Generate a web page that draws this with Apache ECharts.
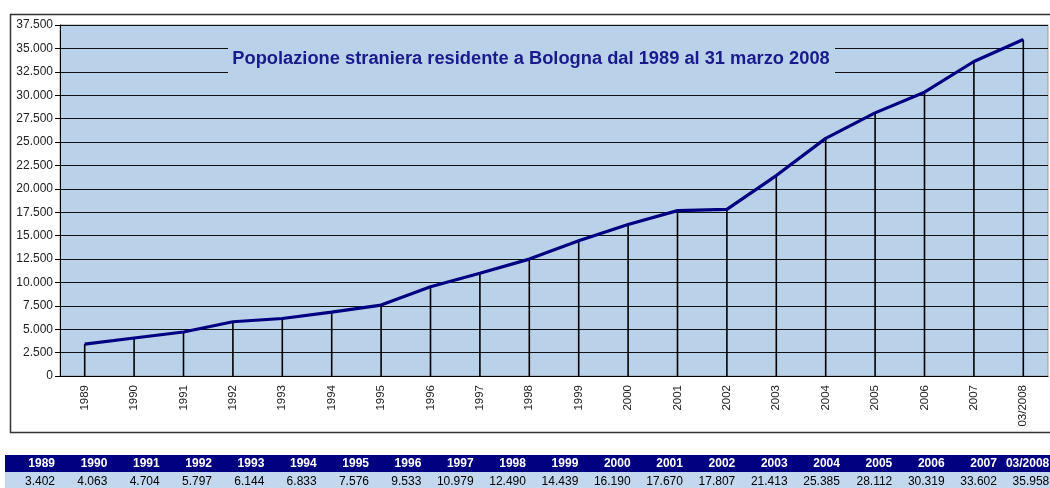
<!DOCTYPE html>
<html><head><meta charset="utf-8">
<script src="https://cdn.jsdelivr.net/npm/echarts@6/dist/echarts.min.js"></script>
<style>html,body{margin:0;padding:0;background:#fff}#c{width:1050px;height:488px}</style>
</head><body><div id="c"></div>
<script>
const categories = ['1989','1990','1991','1992','1993','1994','1995','1996','1997','1998','1999','2000','2001','2002','2003','2004','2005','2006','2007','03/2008'];
const values = [3402,4063,4704,5797,6144,6833,7576,9533,10979,12490,14439,16190,17670,17807,21413,25385,28112,30319,33602,35958];
const yMin = 0, yMax = 37500, yStep = 2500;
const titleText = 'Popolazione straniera residente a Bologna dal 1989 al 31 marzo 2008';

const FONT = '"Liberation Sans", Arial, sans-serif';
const PLOT_BG = '#BAD1EA';
const NAVY = '#000080';
const fmt = v => String(v).replace(/\B(?=(\d{3})+(?!\d))/g, '.');

const chart = echarts.init(document.getElementById('c'), null, {renderer: 'canvas'});

// table graphics built from the arrays
const tableEls = [];
tableEls.push({type:'rect', shape:{x:5, y:455, width:1050, height:17}, style:{fill:NAVY}, silent:true});
tableEls.push({type:'rect', shape:{x:5, y:472, width:1050, height:20}, style:{fill:'#C3D7EE'}, silent:true});
categories.forEach((c, i) => {
  const xr = 55 + i * 52.33;
  tableEls.push({type:'text', style:{text:c, x:xr, y:463.5, align:'right', verticalAlign:'middle',
    fill:'#fff', font:'bold 12px ' + FONT}, silent:true});
  tableEls.push({type:'text', style:{text:fmt(values[i]), x:xr, y:482, align:'right', verticalAlign:'middle',
    fill:'#000', font:'12px ' + FONT}, silent:true});
});

chart.setOption({
  animation: false,
  backgroundColor: '#fff',
  grid: {left: 60, top: 25, right: 2, bottom: 112, show: true, backgroundColor: PLOT_BG,
    borderColor: '#9a9a9a', borderWidth: 1, containLabel: false},
  xAxis: {
    type: 'category', data: categories, boundaryGap: true,
    axisLine: {show: true, lineStyle: {color: '#000', width: 1}},
    axisTick: {show: false},
    axisLabel: {rotate: 90, margin: 9, fontSize: 11.5, color: '#222', fontFamily: FONT}
  },
  yAxis: {
    type: 'value', min: yMin, max: yMax, interval: yStep,
    axisLine: {show: true, lineStyle: {color: '#000', width: 1}},
    axisTick: {show: true, inside: false, length: 5, lineStyle: {color: '#000'}},
    axisLabel: {fontSize: 12, color: '#222', fontFamily: FONT, margin: 7, formatter: v => fmt(v)},
    splitLine: {show: true, lineStyle: {color: '#111', width: 1.2}}
  },
  series: [
    {type: 'bar', data: values, barWidth: 1.6, itemStyle: {color: '#000'}, silent: true, z: 1},
    {type: 'line', data: values, showSymbol: false, symbol: 'none',
      lineStyle: {color: NAVY, width: 3.2}, z: 3, silent: true}
  ],
  graphic: [
    {type:'rect', shape:{x:10.5, y:14.5, width:1100, height:418}, style:{fill:'none', stroke:'#333', lineWidth:1.5}, silent:true, z: -1},
    {type:'rect', shape:{x:228, y:46, width:607, height:29}, style:{fill:PLOT_BG}, silent:true, z: 10},
    {type:'text', style:{text:titleText, x:531, y:59, align:'center', verticalAlign:'middle',
      fill:'#1A1A8C', font:'bold 18.3px ' + FONT}, silent:true, z: 11},
    ...tableEls
  ]
});
</script></body></html>
